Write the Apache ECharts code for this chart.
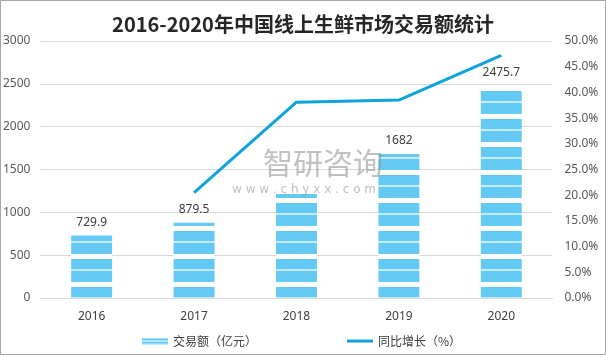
<!DOCTYPE html>
<html>
<head>
<meta charset="utf-8">
<script src="https://cdn.jsdelivr.net/npm/echarts@6/dist/echarts.min.js"></script>
<style>
html,body{margin:0;padding:0;background:#fff;}
#c{width:606px;height:355px;}
</style>
</head>
<body>
<div id="c"></div>
<script>
var categories = ['2016', '2017', '2018', '2019', '2020'];
var tradeValues = [729.9, 879.5, 1214.6, 1682, 2475.7];
var growthValues = [null, 20.5, 38.1, 38.5, 47.2];
var hiddenLabelIndex = [2];
var titleText = '2016-2020年中国线上生鲜市场交易额统计';
var barName = '交易额（亿元）';
var lineName = '同比增长（%）';

var BLUE = '#64CAF4', PALE = '#C2EAFB', LINE = '#0FA3DC';

function makePattern() {
  var c = document.createElement('canvas');
  c.width = 8; c.height = 28;
  var g = c.getContext('2d');
  for (var r = 0; r < 28; r++) {
    var col = BLUE;
    if (r >= 2 && r <= 6) col = '#ffffff';
    else if (r >= 17 && r <= 18) col = PALE;
    g.fillStyle = col;
    g.fillRect(0, r, 8, 1);
  }
  return c;
}
function makeIcon() {
  var c = document.createElement('canvas');
  c.width = 26; c.height = 7;
  var g = c.getContext('2d');
  var rows = [PALE, BLUE, BLUE, '#ffffff', BLUE, BLUE, PALE];
  for (var r = 0; r < rows.length; r++) { g.fillStyle = rows[r]; g.fillRect(0, r, 26, 1); }
  return c.toDataURL();
}
function makeLineIcon() {
  var c = document.createElement('canvas');
  c.width = 26; c.height = 7;
  var g = c.getContext('2d');
  g.fillStyle = LINE;
  g.fillRect(0, 2, 26, 3);
  return c.toDataURL();
}

var chart = echarts.init(document.getElementById('c'), null, {renderer: 'canvas'});
var barData = tradeValues.map(function (v, i) {
  return hiddenLabelIndex.indexOf(i) >= 0 ? {value: v, label: {show: false}} : v;
});

chart.setOption({
  animation: false,
  title: {
    text: titleText, left: 'center', top: 9,
    textStyle: {fontFamily: 'Noto Sans CJK SC', fontWeight: 'bold', fontSize: 20, color: '#262626'}
  },
  grid: {left: 37.5, right: 53.5, top: 41, bottom: 57},
  legend: {
    left: 137, top: 330, itemGap: 90, itemWidth: 26, itemHeight: 7,
    textStyle: {fontFamily: 'Noto Sans CJK SC', fontSize: 12, color: '#404040'},
    data: [
      {name: barName, icon: 'image://' + makeIcon()},
      {name: lineName, icon: 'image://' + makeLineIcon()}
    ]
  },
  xAxis: {
    type: 'category', data: categories,
    axisLine: {lineStyle: {color: '#D9D9D9'}},
    axisTick: {show: false},
    axisLabel: {color: '#404040', fontSize: 12, margin: 13, fontFamily: 'Noto Sans'}
  },
  yAxis: [{
    type: 'value', min: 0, max: 3000, interval: 500,
    axisLine: {show: false}, axisTick: {show: false},
    axisLabel: {color: '#595959', fontSize: 12, margin: 10, fontFamily: 'Noto Sans',
      formatter: function (v) { return String(v); }},
    splitLine: {lineStyle: {color: '#D9D9D9'}}
  }, {
    type: 'value', min: 0, max: 50, interval: 5,
    axisLine: {show: false}, axisTick: {show: false},
    axisLabel: {color: '#595959', fontSize: 12, margin: 12, fontFamily: 'Noto Sans',
      formatter: function (v) { return v.toFixed(1) + '%'; }},
    splitLine: {show: false}
  }],
  series: [{
    name: barName, type: 'bar', data: barData, barWidth: '40%',
    itemStyle: {color: {image: makePattern(), repeat: 'repeat'}},
    label: {show: true, position: 'top', distance: 7, color: '#404040', fontSize: 12, fontFamily: 'Noto Sans'}
  }, {
    name: lineName, type: 'line', yAxisIndex: 1, data: growthValues,
    symbol: 'none', connectNulls: false,
    lineStyle: {color: LINE, width: 3}, itemStyle: {color: LINE}
  }],
  graphic: [
    {type: 'rect', shape: {x: 0.5, y: 0.5, width: 605, height: 354}, style: {fill: 'none', stroke: '#A6A6A6', lineWidth: 1}, silent: true},
    {type: 'text', left: 263, top: 148, z: 10, silent: true,
      style: {text: '智研咨询', font: '30px "Noto Sans CJK SC"', fill: 'rgba(140,140,140,0.55)'}},
    {type: 'text', left: 232, top: 184, z: 10, silent: true,
      style: {text: 'w w w . c h y x x . c o m', font: '12px "DejaVu Sans"', fill: 'rgba(140,140,140,0.55)'}}
  ]
});
</script>
</body>
</html>
